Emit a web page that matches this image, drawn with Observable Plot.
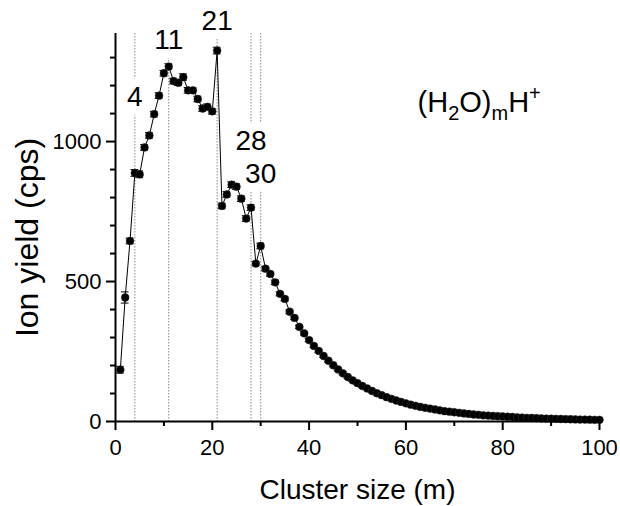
<!DOCTYPE html>
<html><head><meta charset="utf-8">
<script src="https://cdn.jsdelivr.net/npm/d3@7"></script>
<script src="https://cdn.jsdelivr.net/npm/@observablehq/plot@0.6"></script>
<style>body{margin:0;background:#fff} #chart svg{font-family: Arial, "Liberation Sans", sans-serif; overflow: visible}</style>
</head><body><div id="chart"></div>
<script>
const clusterSize = [1,2,3,4,5,6,7,8,9,10,11,12,13,14,15,16,17,18,19,20,21,22,23,24,25,26,27,28,29,30,31,32,33,34,35,36,37,38,39,40,41,42,43,44,45,46,47,48,49,50,51,52,53,54,55,56,57,58,59,60,61,62,63,64,65,66,67,68,69,70,71,72,73,74,75,76,77,78,79,80,81,82,83,84,85,86,87,88,89,90,91,92,93,94,95,96,97,98,99,100];
const ionYield = [185,443,645,888,883,979,1022,1098,1164,1244,1268,1216,1210,1230,1183,1183,1152,1118,1124,1108,1325,770,811,846,839,796,725,764,564,627,546,527,497,456,438,392,370,338,315,291,270,252,234,217,201,186,172,159,147,137,127,118,109,101,94,87,81,75,70,65,60,56,52,49,46,43,40,37,35,33,31,29,27,25,24,22,21,20,19,18,17,16,15,14,13,12.5,12,11,10.5,10,9.5,9,8.5,8,7.5,7,7,6.5,6,6];
const yieldError = [12,20,10,12,12,10,10,10,10,10,10,10,10,12,10,10,10,10,10,10,12,10,10,10,10,10,10,10,8,10,8,8,8,7,7,7,6,6,6,6,6,5,5,5,5,5,5,4,4,4,4,4,4,4,3,3,3,3,3,3,3,3,3,3,3,3,2,2,2,2,2,2,2,2,2,2,2,2,2,2,2,2,2,2,2,2,2,2,2,2,2,2,2,2,2,2,2,2,2,2];
const markedSizes = [4, 11, 21, 28, 30];
const markLabelY = [1160, 1362, 1432, 1002, 885];
const xTicks = [0, 20, 40, 60, 80, 100];
const xMinorTicks = [10, 30, 50, 70, 90];
const yTicks = [0, 500, 1000];
const yMinorTicks = [100, 200, 300, 400, 600, 700, 800, 900, 1100, 1200, 1300];
const xTitle = "Cluster size (m)";
const yTitle = "Ion yield (cps)";
const formula = "(H2O)mH+";

const data = clusterSize.map((m, i) => ({m, y: ionYield[i], e: yieldError[i]}));

const plot = Plot.plot({
  width: 620, height: 506,
  marginLeft: 115, marginRight: 21, marginTop: 33, marginBottom: 85,
  style: {color: "black", background: "white", fontFamily: "Arial, 'Liberation Sans', sans-serif"},
  x: {domain: [0, 100]},
  y: {domain: [0, 1386]},
  marks: [
    Plot.ruleX(markedSizes, {x: d => d, stroke: "#888", strokeWidth: 1, strokeDasharray: "1.5,1.5"}),
    Plot.text(markedSizes, {x: d => d, y: (d, i) => markLabelY[i], text: d => String(d), fontSize: 28, fill: "black", stroke: "white", strokeWidth: 18}),
    Plot.line(data, {x: "m", y: "y", stroke: "black", strokeWidth: 1}),
    Plot.ruleX(data, {x: "m", y1: d => d.y - d.e, y2: d => d.y + d.e, stroke: "black", strokeWidth: 1}),
    Plot.ruleY(data, {y: d => d.y - d.e, x1: d => d.m - 0.8, x2: d => d.m + 0.8, stroke: "black", strokeWidth: 1}),
    Plot.ruleY(data, {y: d => d.y + d.e, x1: d => d.m - 0.8, x2: d => d.m + 0.8, stroke: "black", strokeWidth: 1}),
    Plot.dot(data, {x: "m", y: "y", r: 3.9, fill: "black", stroke: "#333", strokeWidth: 0.5}),
    Plot.ruleX([0], {stroke: "black", strokeWidth: 2}),
    Plot.ruleY([0], {stroke: "black", strokeWidth: 2}),
    Plot.axisX({ticks: xTicks, tickSize: 9, tickPadding: 9, fontSize: 22, strokeWidth: 2, label: null, tickFormat: d3.format("d")}),
    Plot.axisX({ticks: xMinorTicks, tickSize: 5, text: null, strokeWidth: 2, label: null}),
    Plot.axisY({ticks: yTicks, tickSize: 9, tickPadding: 5, fontSize: 22, strokeWidth: 2, label: null, tickFormat: d3.format("d")}),
    Plot.axisY({ticks: yMinorTicks, tickSize: 5, text: null, strokeWidth: 2, label: null}),
    Plot.text([xTitle], {frameAnchor: "bottom", dy: 77, fontSize: 28, fill: "black"}),
    Plot.text([yTitle], {frameAnchor: "left", textAnchor: "middle", dx: -88, dy: 10, rotate: -90, fontSize: 32, fill: "black"}),
    Plot.text([formula], {x: 62.4, y: 1138, textAnchor: "start", fontSize: 29, fill: "black", className: "formula"})
  ]
});
document.getElementById("chart").appendChild(plot);

// rebuild the formula with real subscripts / superscript
const ft = d3.select(plot).select(".formula text");
ft.text(null);
const parts = ["(H", "2", "O)", "m", "H", "+"];
let shift = 0;
parts.forEach(s => {
  const t = ft.append("tspan").text(s);
  let target = 0, size = null;
  if (s === "2" || s === "m") { target = 8; size = 20; }
  else if (s === "+") { target = -12; size = 20; }
  t.attr("dy", target - shift);
  if (size) t.attr("font-size", size);
  shift = target;
});
</script>
</body></html>
